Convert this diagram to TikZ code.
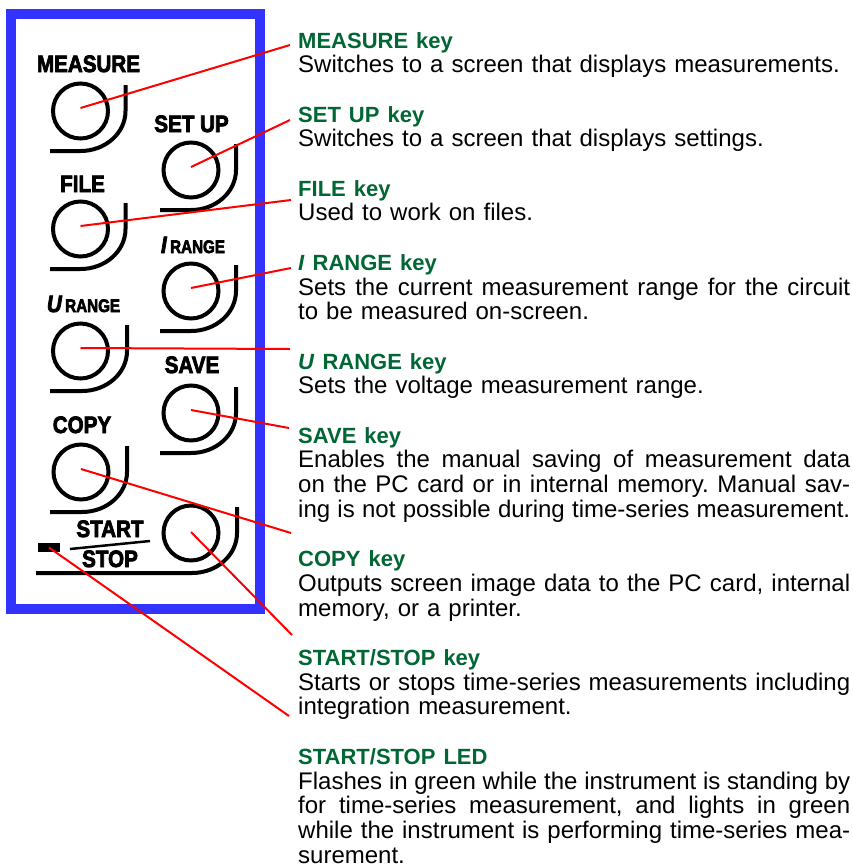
\documentclass[tikz,border=0pt]{standalone}
\usepackage{fontspec}
\usepackage{graphicx}
\setmainfont{Liberation Sans}
\newfontfamily\keyfont{Liberation Sans}[BoldFeatures={FakeBold=3.5},BoldItalicFeatures={FakeBold=3.5}]
\definecolor{frameblue}{RGB}{51,51,255}
\definecolor{headgreen}{RGB}{0,102,51}
\definecolor{leadred}{RGB}{255,0,0}
\frenchspacing
\newcommand\hd[1]{{\color{headgreen}\bfseries\fontsize{22}{24.7}\selectfont #1}}
\newcommand\jl[1]{\makebox[552pt][s]{\spaceskip=0pt\xspaceskip=0pt #1}}
\newcommand\jshape[3]{\draw[jline] (#1+45,#2-26) -- (#1+45,#2) arc[start angle=0,end angle=90,x radius=45,y radius=40] -- (#3,#2+40);}
\begin{document}
\begin{tikzpicture}[x=1pt,y=-1pt,
  btn/.style={circle,draw=black,line width=4pt,minimum size=55pt,inner sep=0pt},
  jline/.style={draw=black,line width=4pt},
  lead/.style={draw=leadred,line width=2pt},
  keylbl/.style={inner sep=0pt,anchor=base,font=\keyfont\bfseries\fontsize{20.6}{22}\selectfont},
  desc/.style={anchor=base west,inner sep=0pt,text width=552pt,align=left,font=\fontsize{24}{24.7}\selectfont}]
\useasboundingbox (0,0) rectangle (853,868);
\draw[frameblue,line width=10pt] (11,14) rectangle (260,609);
% buttons
\node[btn] (measure) at (80.5,111) {};
\node[btn] (setup) at (191,170) {};
\node[btn] (file) at (80.5,229) {};
\node[btn] (irange) at (191,291) {};
\node[btn] (urange) at (80.5,351) {};
\node[btn] (save) at (191,413) {};
\node[btn] (copy) at (81,472) {};
\node[btn] (start) at (191,533) {};
\jshape{80.5}{111}{50}
\jshape{191}{170}{160}
\jshape{80.5}{229}{50}
\jshape{191}{291}{160}
\jshape{82}{351}{50}
\jshape{191}{413}{160}
\jshape{82}{472}{50}
\jshape{192}{533}{36}
% key labels
\node[keylbl] (lmeasure) at (88.5,72) {\scalebox{1}[1.15]{MEASURE}};
\node[keylbl] (lsetup) at (191.5,132) {\scalebox{1}[1.15]{SET UP}};
\node[keylbl] (lfile) at (82.5,192) {\scalebox{1}[1.15]{FILE}};
\node[keylbl] (lirange) at (193,253) {\scalebox{1}[1.15]{\itshape I}\,\scalebox{1}[1.2]{\fontsize{15.2}{16}\selectfont RANGE}};
\node[keylbl] (lurange) at (83.5,312) {\scalebox{1}[1.15]{\itshape U}\,\scalebox{1}[1.2]{\fontsize{15.2}{16}\selectfont RANGE}};
\node[keylbl] (lsave) at (192,373) {\scalebox{1}[1.15]{SAVE}};
\node[keylbl] (lcopy) at (82,433) {\scalebox{1}[1.15]{COPY}};
\node[keylbl] (lstart) at (110,537) {\scalebox{1}[1.15]{START}};
\node[keylbl] (lstop) at (110,567) {\scalebox{1}[1.15]{STOP}};
\coordinate (sl1) at (70,549);
\coordinate (sl2) at (150,541);
\draw[line width=2.5pt] (sl1) -- (sl2);
\node[fill=black,minimum width=22pt,minimum height=9pt,inner sep=0pt] (led) at (49,547.5) {};
% descriptions
\node[desc] (tmeasure) at (298,48) {\hd{MEASURE key}\\Switches to a screen that displays measurements.};
\node[desc] (tsetup) at (298,122.1) {\hd{SET UP key}\\Switches to a screen that displays settings.};
\node[desc] (tfile) at (298,196.2) {\hd{FILE key}\\Used to work on files.};
\node[desc] (tirange) at (298,270.3) {\hd{\textit{I} RANGE key}\\\jl{Sets the current measurement range for the circuit}\\to be measured on-screen.};
\node[desc] (turange) at (298,369.1) {\hd{\textit{U} RANGE key}\\Sets the voltage measurement range.};
\node[desc] (tsave) at (298,443.2) {\hd{SAVE key}\\\jl{Enables the manual saving of measurement data}\\\jl{on the PC card or in internal memory. Manual sav-}\\\jl{ing is not possible during time-series measurement.}};
\node[desc] (tcopy) at (298,566.7) {\hd{COPY key}\\\jl{Outputs screen image data to the PC card, internal}\\memory, or a printer.};
\node[desc] (tstart) at (298,665.5) {\hd{START/STOP key}\\\jl{Starts or stops time-series measurements including}\\integration measurement.};
\node[desc] (tled) at (298,764.3) {\hd{START/STOP LED}\\\jl{Flashes in green while the instrument is standing by}\\\jl{for time-series measurement, and lights in green}\\\jl{while the instrument is performing time-series mea-}\\surement.};
% leader ends
\coordinate (emeasure) at (290,45);
\coordinate (esetup) at (290,120);
\coordinate (efile) at (291,200);
\coordinate (eirange) at (291,268);
\coordinate (eurange) at (290,349);
\coordinate (esave) at (289,428);
\coordinate (ecopy) at (291,533);
\coordinate (estart) at (292,635);
\coordinate (eled) at (289,716);
\draw[lead] ([yshift=3pt]measure.center) -- (emeasure);
\draw[lead] ([yshift=3pt]setup.center) -- (esetup);
\draw[lead] ([yshift=3pt]file.center) -- (efile);
\draw[lead] ([yshift=3pt]irange.center) -- (eirange);
\draw[lead] ([yshift=3pt]urange.center) -- (eurange);
\draw[lead] ([yshift=3pt]save.center) -- (esave);
\draw[lead] ([yshift=3pt]copy.center) -- (ecopy);
\draw[lead] ([yshift=1pt]start.center) -- (estart);
\draw[lead] (led.center) -- (eled);
\end{tikzpicture}
\end{document}
